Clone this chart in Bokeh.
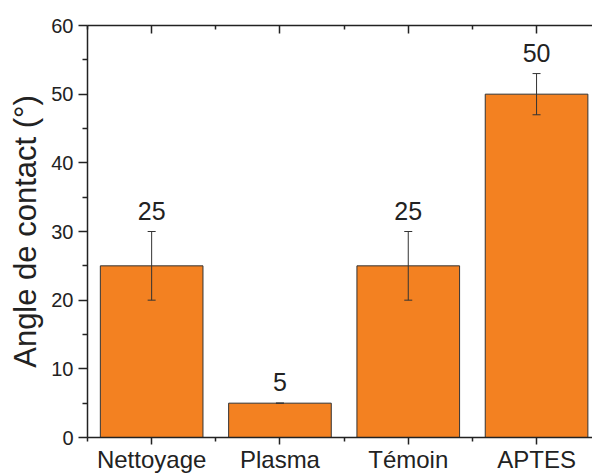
from bokeh.plotting import figure
from bokeh.models import (ColumnDataSource, Whisker, TeeHead, LinearAxis, FixedTicker,
                          Range1d, LabelSet)
from bokeh.core.properties import value
from bokeh.embed import file_html
from bokeh.resources import INLINE

categories = ["Nettoyage", "Plasma", "Témoin", "APTES"]
angles = [25, 5, 25, 50]
errors = [5, 0, 5, 3]
y_label = "Angle de contact (°)"

xs = [i + 1 for i in range(len(categories))]
src = ColumnDataSource(dict(
    x=xs,
    y=angles,
    lower=[a - e for a, e in zip(angles, errors)],
    upper=[a + e for a, e in zip(angles, errors)],
    lab=[str(a) for a in angles],
))

FONT = "Liberation Sans"
INK = "#222222"

W, H = 592, 475
p = figure(width=W, height=H, output_backend="svg", toolbar_location=None,
           x_range=Range1d(0.5, 4.436), y_range=Range1d(0, 60),
           min_border_left=87, min_border_top=25, min_border_bottom=H - 437,
           min_border_right=0)
p.outline_line_color = None
p.xgrid.visible = False
p.ygrid.visible = False

p.vbar(x="x", top="y", width=0.8, bottom=0, source=src,
       fill_color="#F38121", line_color="#333333", line_width=1)

p.add_layout(Whisker(base="x", lower="lower", upper="upper", source=src,
                     level="annotation", line_color="#333333", line_width=1,
                     upper_head=TeeHead(size=8, line_color="#333333", line_width=1),
                     lower_head=TeeHead(size=8, line_color="#333333", line_width=1)))

p.add_layout(LabelSet(x="x", y="upper", text="lab", source=src, text_align="center",
                      text_baseline="alphabetic", y_offset=12, text_font=value(FONT),
                      text_font_size=value("25px"), text_color=INK))

xticker = FixedTicker(ticks=xs, minor_ticks=[0.5, 1.5, 2.5, 3.5, 4.5])

# bottom axis
xa = p.xaxis[0]
xa.ticker = xticker
xa.major_label_overrides = {x: c for x, c in zip(xs, categories)}
xa.major_label_text_font = FONT
xa.major_label_text_font_size = "24px"
xa.major_label_text_color = INK
xa.major_label_standoff = 1
xa.major_tick_in = 0
xa.major_tick_out = 7
xa.minor_tick_in = 0
xa.minor_tick_out = 4
xa.axis_line_width = 1.5
xa.axis_line_color = INK
xa.major_tick_line_color = INK
xa.minor_tick_line_color = INK
xa.major_tick_line_width = 1.5
xa.minor_tick_line_width = 1.5

# top axis
ta = LinearAxis(ticker=xticker, major_label_text_font_size="0px",
                major_label_text_color=None, major_label_standoff=0,
                major_tick_in=8, major_tick_out=0, minor_tick_in=4, minor_tick_out=0,
                axis_line_width=1.5, axis_line_color=INK,
                major_tick_line_color=INK, minor_tick_line_color=INK,
                major_tick_line_width=1.5, minor_tick_line_width=1.5)
p.add_layout(ta, "above")

# left axis
ya = p.yaxis[0]
ya.ticker = FixedTicker(ticks=[0, 10, 20, 30, 40, 50, 60],
                        minor_ticks=[5, 15, 25, 35, 45, 55])
ya.axis_label = y_label
ya.axis_label_text_font = FONT
ya.axis_label_text_font_size = "31px"
ya.axis_label_text_font_style = "normal"
ya.axis_label_text_color = INK
ya.axis_label_standoff = 5
ya.major_label_text_font = FONT
ya.major_label_text_font_size = "20px"
ya.major_label_text_color = INK
ya.major_label_standoff = 5
ya.major_tick_in = 0
ya.major_tick_out = 9
ya.minor_tick_in = 0
ya.minor_tick_out = 5
ya.axis_line_width = 1.5
ya.axis_line_color = INK
ya.major_tick_line_color = INK
ya.minor_tick_line_color = INK
ya.major_tick_line_width = 1.5
ya.minor_tick_line_width = 1.5

open("out.html", "w").write(file_html(p, INLINE))
